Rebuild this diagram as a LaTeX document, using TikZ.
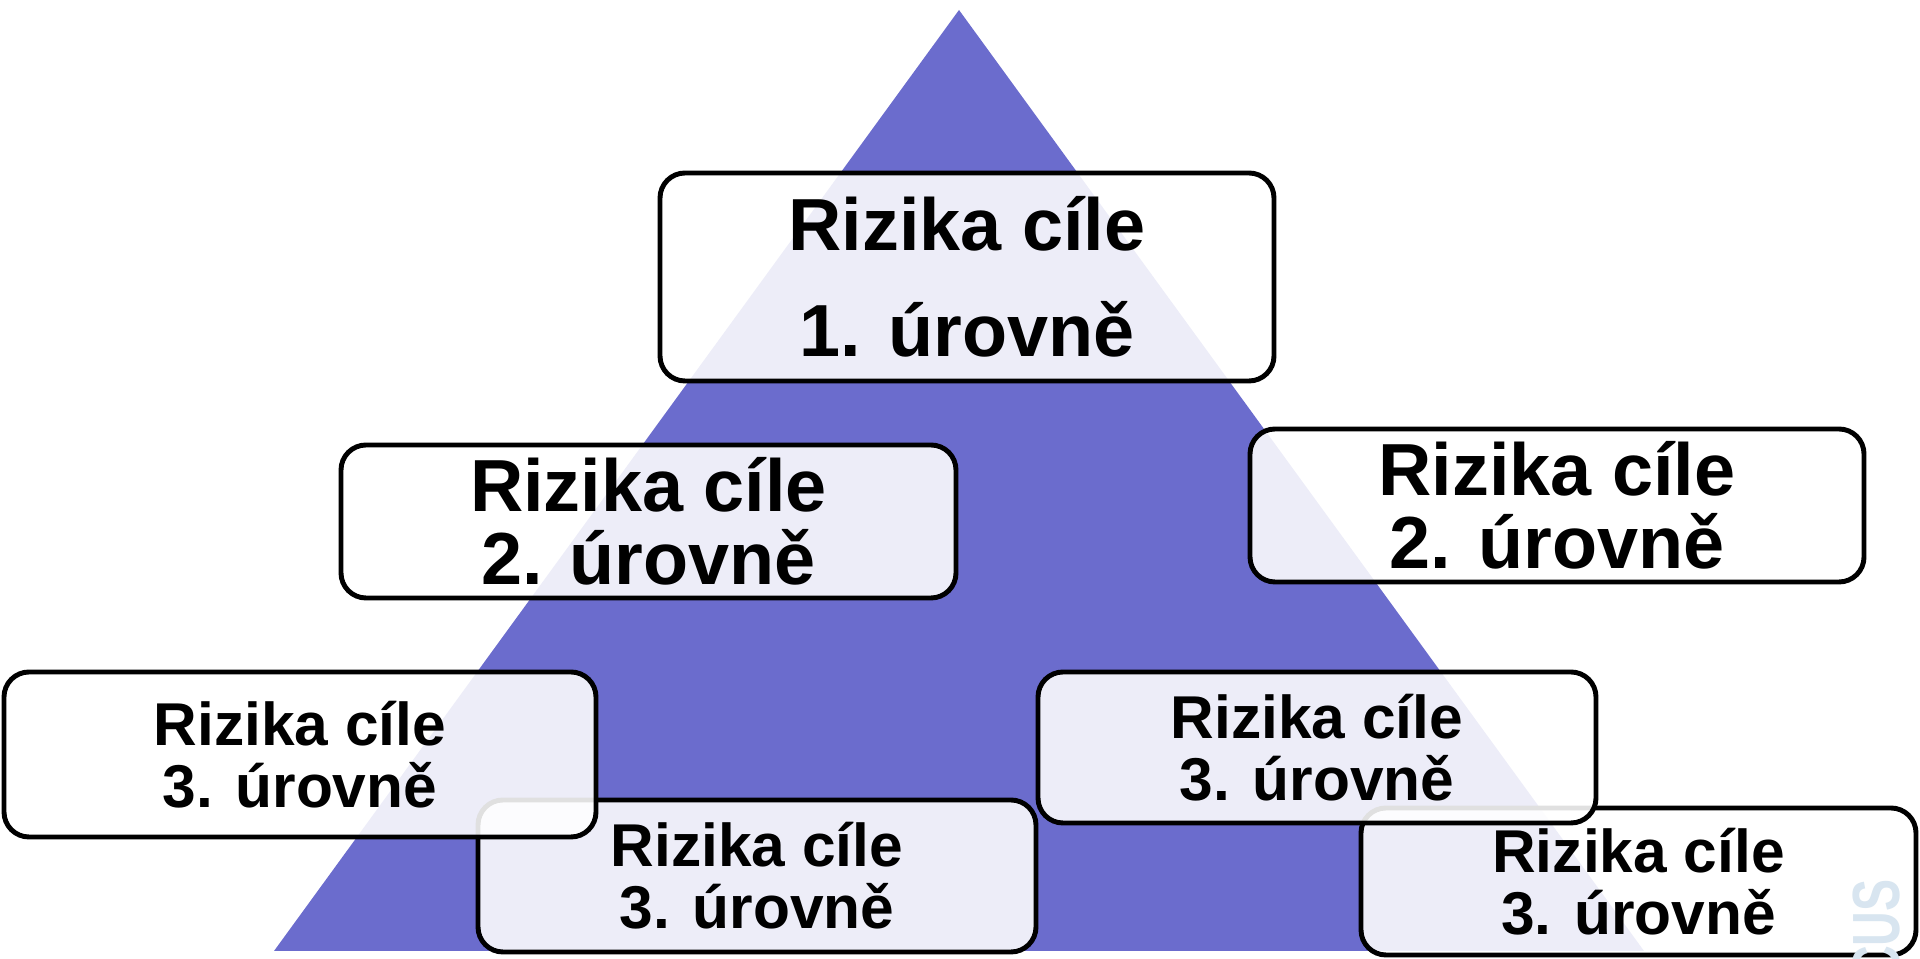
\documentclass[tikz,border=0pt]{standalone}
\usepackage{fontspec}
\setmainfont{Liberation Sans}
\definecolor{pyramid}{HTML}{6B6CCD}
\definecolor{wmark}{HTML}{D8E5F0}
\begin{document}
\begin{tikzpicture}[line width=1.4pt,
  box/.style={draw=black,fill=white,fill opacity=0.88,text opacity=1,
    rounded corners=0.25cm,inner sep=0pt,align=center},
  lvlA/.style={box,font=\fontsize{21pt}{30pt}\selectfont\bfseries},
  lvlB/.style={box,font=\fontsize{21pt}{20.8pt}\selectfont\bfseries},
  lvlC/.style={box,font=\fontsize{17.2pt}{17.6pt}\selectfont\bfseries}]
  \useasboundingbox (0,0) rectangle (19.2,9.59);
  \coordinate (t1) at (9.59,9.49);
  \coordinate (t2) at (2.74,0.08);
  \coordinate (t3) at (16.44,0.08);

  % pyramida v pozadi
  \fill[pyramid] (t1) -- (t2) -- (t3) -- cycle;

  % 1. uroven
  \node[lvlA,minimum width=6.14cm,minimum height=2.08cm] (r1) at (9.67,6.82)
    {Rizika cíle\\1. úrovně};
  % 2. uroven
  \node[lvlB,minimum width=6.15cm,minimum height=1.53cm] (r2a) at (6.485,4.375)
    {Rizika cíle\\2. úrovně};
  \node[lvlB,minimum width=6.14cm,minimum height=1.53cm] (r2b) at (15.57,4.535)
    {Rizika cíle\\2. úrovně};
  % 3. uroven (spodni rada nejdriv, horni ji prekryva)
  \node[lvlC,minimum width=5.58cm,minimum height=1.52cm] (r3c) at (7.57,0.83)
    {Rizika cíle\\3. úrovně};
  \node[lvlC,minimum width=5.55cm,minimum height=1.47cm] (r3d) at (16.385,0.775)
    {Rizika cíle\\3. úrovně};
  \node[lvlC,minimum width=5.92cm,minimum height=1.65cm] (r3a) at (3.00,2.045)
    {Rizika cíle\\3. úrovně};
  \node[lvlC,minimum width=5.58cm,minimum height=1.51cm] (r3b) at (13.17,2.115)
    {Rizika cíle\\3. úrovně};

  % vodoznak vpravo dole
  \node[rotate=90,text=wmark,inner sep=0pt,font=\fontsize{19pt}{19pt}\selectfont\bfseries] (wm) at (18.76,0.29) {\scalebox{0.72}[1]{CUS}};
\end{tikzpicture}
\end{document}
